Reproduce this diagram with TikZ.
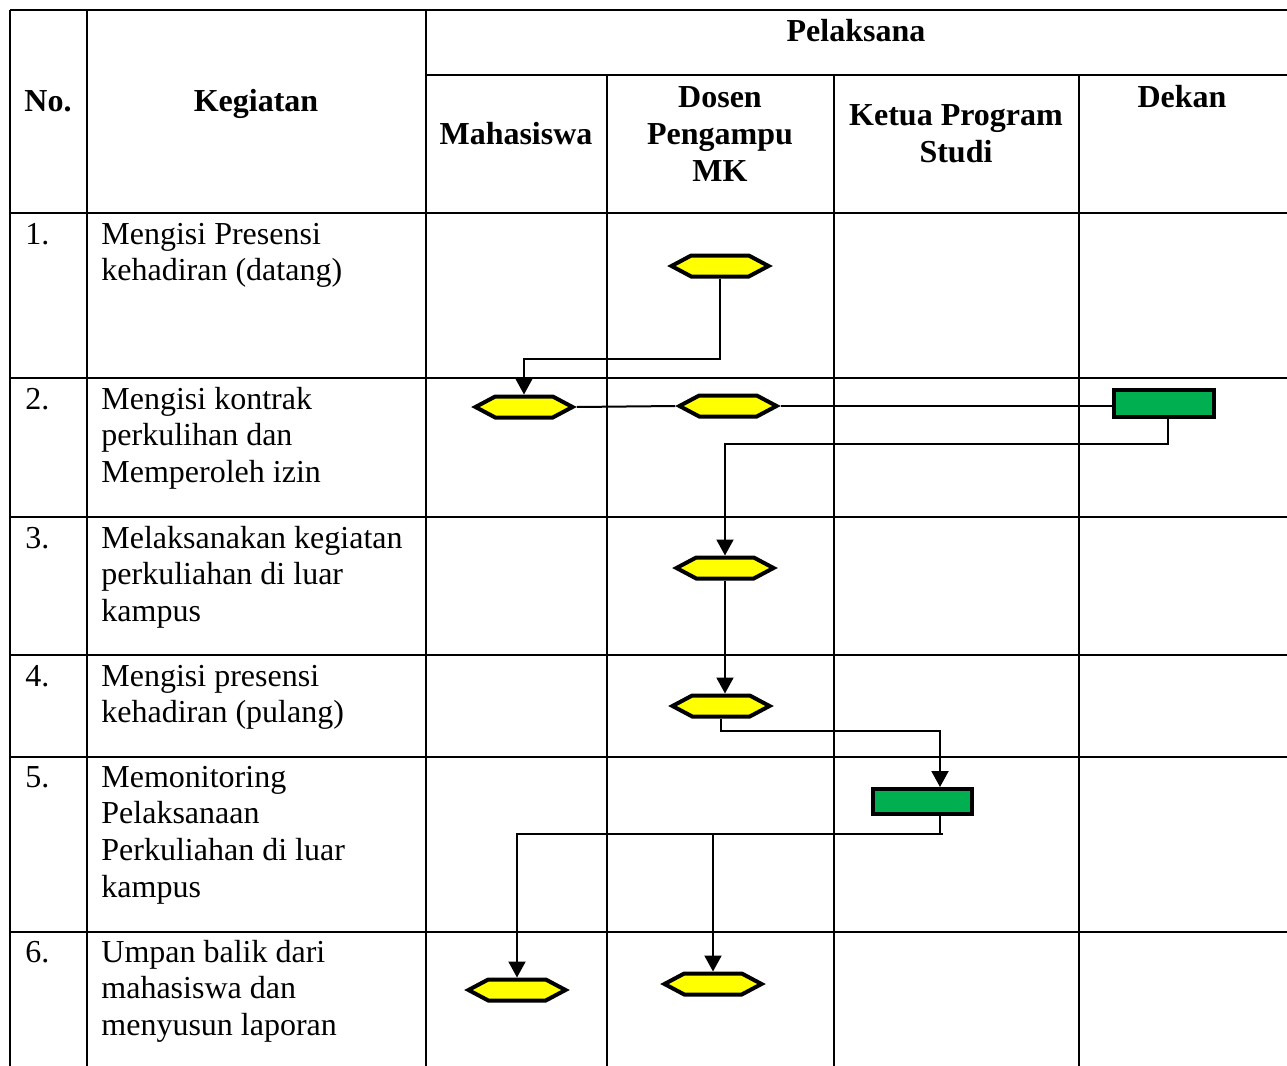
\documentclass[tikz,border=0pt]{standalone}
\usepackage{fontspec}
\setmainfont{Liberation Serif}
\usetikzlibrary{shapes.symbols,arrows.meta,calc}
\definecolor{hexyellow}{HTML}{FFFF00}
\definecolor{boxgreen}{HTML}{00B050}
\begin{document}
\begin{tikzpicture}[x=0.5pt,y=-0.5pt,
  grid/.style={line width=0.7pt},
  bodytxt/.style={font=\fontsize{16}{18.5}\selectfont, inner sep=0pt, anchor=base west},
  headtxt/.style={font=\bfseries\fontsize{16}{18.5}\selectfont, inner sep=0pt, anchor=base},
  hexy/.style={signal, signal to=west and east, signal pointer angle=56, draw, line width=2pt,
    fill=hexyellow, minimum width=48.5pt, minimum height=10.5pt, inner sep=0pt},
  gbox/.style={rectangle, draw, line width=2pt, fill=boxgreen, minimum width=50pt, minimum height=13.5pt, inner sep=0pt},
  conn/.style={line width=1pt},
  arr/.style={-{Triangle[width=8.5pt,length=8pt]}}]
\useasboundingbox (0,0) rectangle (1287,1066);
% grid
\draw[grid] (10,10) -- (1287,10);
\draw[grid] (426,75) -- (1287,75);
\foreach \yy in {213,378,517,655,757,932} \draw[grid] (10,\yy) -- (1287,\yy);
\foreach \xx in {10,87,426} \draw[grid] (\xx,10) -- (\xx,1066);
\foreach \xx in {607,834,1079} \draw[grid] (\xx,75) -- (\xx,1066);
% headers
\node[headtxt] (hno) at (48,111) {No.};
\node[headtxt] (hkeg) at (256,111) {Kegiatan};
\node[headtxt] (hpel) at (856,41) {Pelaksana};
\node[headtxt] (hmhs) at (516,144) {Mahasiswa};
\node[headtxt] (hdos1) at (720,107) {Dosen};
\node[headtxt] (hdos2) at (720,144) {Pengampu};
\node[headtxt] (hdos3) at (720,181) {MK};
\node[headtxt] (hkp1) at (956,125) {Ketua Program};
\node[headtxt] (hkp2) at (956,162) {Studi};
\node[headtxt] (hdek) at (1182,107) {Dekan};
% rows
\foreach \r/\y/\L in {
  1/244/{Mengisi Presensi,kehadiran (datang)},
  2/409/{Mengisi kontrak,perkulihan dan,Memperoleh izin},
  3/548/{Melaksanakan kegiatan,perkuliahan di luar,kampus},
  4/686/{Mengisi presensi,kehadiran (pulang)},
  5/787/{Memonitoring,Pelaksanaan,Perkuliahan di luar,kampus},
  6/962/{Umpan balik dari,mahasiswa dan,menyusun laporan}}{
  \node[bodytxt] (n\r) at (25,\y) {\r.};
  \foreach \t [count=\i] in \L {
    \node[bodytxt] (t\r-\i) at (101,{\y+36.8*(\i-1)}) {\t};
  }
}
% shapes
\node[hexy] (h1) at (720,266) {};
\node[hexy] (h2a) at (524,407) {};
\node[hexy] (h2b) at (728,406) {};
\node[gbox] (g1) at (1164,403.5) {};
\node[hexy] (h3) at (725,568) {};
\node[hexy] (h4) at (721,706) {};
\node[gbox, minimum width=49.5pt, minimum height=12.5pt] (g2) at (922.5,801.5) {};
\node[hexy] (h6a) at (517,990) {};
\node[hexy] (h6b) at (713,984) {};
% connectors
\draw[conn,arr] (h1.south) -- ++(0,80) -| (h2a.north);
\draw[conn] (h2a.east) -- (h2b.west);
\draw[conn] (h2b.east) -- (h2b.east -| g1.west);
\draw[conn,arr] ([xshift=2pt]g1.south) -- ++(0,25) -| (h3.north);
\draw[conn,arr] (h3.south) -- (h3.south |- h4.north);
\draw[conn,arr] (h4.south) -- ++(0,12) -| ([xshift=8.75pt]g2.north);
\draw[conn] ([xshift=8.75pt]g2.south) -- ++(0,18) coordinate (j5);
\draw[conn,arr] ([xshift=1.5pt]j5) -| (h6a.north);
\draw[conn,arr] (j5 -| h6b.north) -- (h6b.north);
\end{tikzpicture}
\end{document}
